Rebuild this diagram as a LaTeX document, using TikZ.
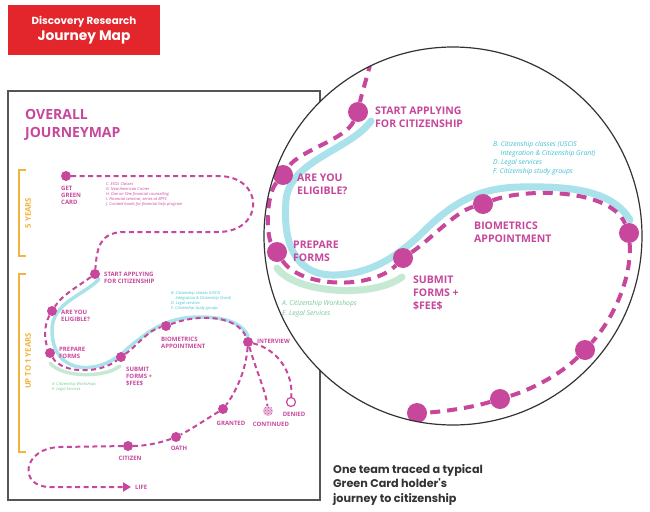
\documentclass[tikz,border=0pt]{standalone}
\usepackage{fontspec}
\setmainfont{Open Sans}
\newfontfamily\roundfont{Poppins}
\usetikzlibrary{positioning, arrows.meta, patterns}

\definecolor{jmag}{HTML}{C6479C}
\definecolor{jcyan}{HTML}{A9E2EA}
\definecolor{jcyantext}{HTML}{3FC0D2}
\definecolor{jgreen}{HTML}{C6E9D3}
\definecolor{jgreentext}{HTML}{74C993}
\definecolor{jorange}{HTML}{F2B43C}
\definecolor{jred}{HTML}{E3262B}
\definecolor{jframe}{HTML}{555555}
\definecolor{jink}{HTML}{333333}

\begin{document}
\begin{tikzpicture}[x=1pt, y=-1pt,
  banner/.style={fill=jred, text=white, minimum width=152pt, minimum height=50pt,
                 align=center, inner sep=0pt},
  dot/.style={circle, fill=jmag, inner sep=0pt, minimum size=10pt},
  bigdot/.style={circle, fill=jmag, inner sep=0pt, minimum size=20pt},
  slab/.style={font=\fontsize{6}{7.3}\selectfont\bfseries, text=jmag, align=left, inner sep=0pt},
  blab/.style={font=\fontsize{10.5}{12.8}\selectfont\bfseries, text=jmag, align=left, inner sep=0pt},
  yrs/.style={font=\fontsize{7.8}{9}\selectfont\bfseries, text=jorange, inner sep=0pt},
  note/.style={font=\fontsize{4}{5}\selectfont\itshape, align=left, inner sep=0pt},
  bignote/.style={font=\fontsize{6.8}{9.2}\selectfont\itshape, align=left, inner sep=0pt},
  trail/.style={draw=jmag, line width=2pt, dash pattern=on 5pt off 3.5pt},
  bigtrail/.style={draw=jmag, line width=4pt, dash pattern=on 10pt off 7pt},
  band/.style={draw=jcyan, line width=3.5pt, line cap=round},
  bigband/.style={draw=jcyan, line width=7pt, line cap=round},
  bracket/.style={draw=jorange, line width=1.5pt},
]
\useasboundingbox (0,0) rectangle (650,511);

% Title banner
\node[banner] (title) at (84,30)
  {{\roundfont\bfseries\fontsize{10.3}{12}\selectfont Discovery Research}\\[3pt]
   {\roundfont\bfseries\fontsize{13.8}{15}\selectfont Journey Map}};

% Overview frame
\draw[jframe, line width=1.2pt] (8,91) rectangle (320,500);
\node[font=\fontsize{14}{18}\selectfont\bfseries, text=jmag, align=left, inner sep=0pt,
      anchor=north west] (head) at (25,109) {OVERALL\\JOURNEYMAP};

% Time brackets
\draw[bracket] (26,170) -- (19,170) -- (19,256) -- (26,256);
\draw[bracket] (26,274) -- (19,274) -- (19,452) -- (26,452);
\node[yrs, rotate=90] (y5) at (28,213) {5 YEARS};
\node[yrs, rotate=90] (y1) at (28,361) {UP TO 1 YEARS};

% Service bands (overview)
\draw[band] (99,279) .. controls (85,295) and (52,302) .. (52,330)
  .. controls (52,376) and (100,377) .. (128,348)
  .. controls (148,332) and (165,317) .. (200,317)
  .. controls (230,317) and (244,326) .. (248,336);
\draw[band, draw=jgreen] (50,363) .. controls (62,378) and (105,378) .. (120,366);

% Stops (overview)
\node[dot] (gc) at (66,176) {};
\node[dot] (st) at (95,274) {};
\node[dot] (el) at (52,311) {};
\node[dot] (pf) at (50,353) {};
\node[dot] (sb) at (121,357) {};
\node[dot] (bio) at (166,326) {};
\node[dot] (iv) at (248,342) {};
\node[dot] (gr) at (223,409) {};
\node[circle, inner sep=0pt, minimum size=10pt, fill=jmag!35,
      postaction={pattern=crosshatch dots, pattern color=jmag}] (co) at (268,411) {};
\node[circle, inner sep=0pt, minimum size=9pt, draw=jmag, line width=1.2pt, fill=white] (dn) at (291,402) {};
\node[dot] (oa) at (176,437) {};
\node[dot] (cz) at (128,446) {};

% Labels (overview)
\node[slab, anchor=north west] (gcl) at (61,185.5) {GET\\GREEN\\CARD};
\node[slab, anchor=north west] (stl) at (104,271.5) {START APPLYING\\FOR CITIZENSHIP};
\node[slab, anchor=north west] (ell) at (61,309.5) {ARE YOU\\ELIGIBLE?};
\node[slab, anchor=north west] (pfl) at (59,346.5) {PREPARE\\FORMS};
\node[slab, anchor=north west] (sbl) at (126,366.5) {SUBMIT\\FORMS +\\\$FEE\$};
\node[slab, anchor=north west] (biol) at (161,336.5) {BIOMETRICS\\APPOINTMENT};
\node[slab, anchor=west] (ivl) at (257,341) {INTERVIEW};
\node[slab] (grl) at (231,423) {GRANTED};
\node[slab] (col) at (271,424) {CONTINUED};
\node[slab] (dnl) at (294,414) {DENIED};
\node[slab] (oal) at (179,448) {OATH};
\node[slab] (czl) at (130,458) {CITIZEN};
\node[slab, anchor=west, inner xsep=4pt] (life) at (131,487) {LIFE};

% Notes (overview)
\node[note, text=jmag, anchor=north west] (gcn) at (106,182.5)
  {C. ESOL Classes\\G. New American Corner\\H. One on One financial counselling\\
   I. Financial seminar, series at BPYC\\J. Curated books for financial help program};
\node[note, text=jcyantext, anchor=north west] (bn) at (171,291)
  {B. Citizenship classes (USCIS\\\hspace*{1.1em}Integration \& Citizenship Grant)\\
   D. Legal services\\F. Citizenship study groups};
\node[note, text=jgreentext, anchor=north west] (an) at (52,382)
  {A. Citizenship Workshops\\E. Legal Services};

% Journey (overview)
\draw[trail] (gc) -- (218,176) .. controls (265,176) and (265,232) .. (218,232)
  -- (125,232) .. controls (100,232) and (97,247) .. (st);
\draw[trail] (st) .. controls (80,285) and (62,295) .. (el);
\draw[trail] (el) .. controls (44,325) and (44,340) .. (pf);
\draw[trail] (pf) .. controls (62,374) and (100,374) .. (sb);
\draw[trail] (sb) .. controls (138,345) and (148,330) .. (bio);
\draw[trail] (bio) .. controls (200,313) and (238,316) .. (iv);
\draw[trail] (iv) .. controls (246,370) and (236,392) .. (gr);
\draw[trail] (iv) .. controls (256,370) and (266,392) .. (co);
\draw[trail] (iv) .. controls (280,350) and (293,375) .. (dn);
\draw[trail] (gr) .. controls (205,420) and (190,430) .. (oa);
\draw[trail] (oa) .. controls (160,443) and (145,446) .. (cz);
\draw[trail, -{Triangle[length=8pt, width=9pt]}] (cz) -- (60,447)
  .. controls (22,448) and (18,487) .. (50,487) -- (life);

% Magnifier
\node[circle, fill=white, minimum size=378pt, inner sep=0pt] (lens) at (453,236) {};
\begin{scope}
\clip (lens.center) circle (189);

% Service bands (detail)
\draw[bigband] (371,121) .. controls (350,150) and (290,160) .. (286,200)
  .. controls (282,250) and (300,276) .. (335,275)
  .. controls (370,274) and (395,258) .. (420,235)
  .. controls (450,205) and (475,188) .. (520,187)
  .. controls (570,186) and (612,190) .. (630,220);
\draw[bigband, draw=jgreen] (277,268) .. controls (295,293) and (372,299) .. (402,277);

% Stops (detail)
\coordinate (ztop) at (375,45);
\node[bigdot] (zst) at (358,112) {};
\node[bigdot] (zel) at (283,175) {};
\node[bigdot] (zpf) at (277,252) {};
\node[bigdot] (zsb) at (403,258) {};
\node[bigdot] (zbio) at (483,204) {};
\node[bigdot] (zi) at (629,233) {};
\node[bigdot] (zg) at (585,350) {};
\node[bigdot] (zo) at (500,399) {};
\node[bigdot] (zc) at (417,413) {};

% Labels (detail)
\node[blab, anchor=north west] (zstl) at (375,107) {START APPLYING\\FOR CITIZENSHIP};
\node[blab, anchor=north west] (zell) at (297,174) {ARE YOU\\ELIGIBLE?};
\node[blab, anchor=north west] (zpfl) at (293,241) {PREPARE\\FORMS};
\node[blab, anchor=north west] (zsbl) at (413,276) {SUBMIT\\FORMS +\\\$FEE\$};
\node[blab, anchor=north west] (zbiol) at (474,222) {BIOMETRICS\\APPOINTMENT};

% Notes (detail)
\node[bignote, text=jcyantext, anchor=north west] (zbn) at (493,141)
  {B. Citizenship classes (USCIS\\\hspace*{1.1em}Integration \& Citizenship Grant)\\
   D. Legal services\\F. Citizenship study groups};
\node[bignote, text=jgreentext, anchor=north west] (zan) at (282,300.5)
  {A. Citizenship Workshops\\E. Legal Services};

% Journey (detail)
\draw[bigtrail] (ztop) .. controls (368,75) and (362,92) .. (zst);
\draw[bigtrail] (zst) .. controls (345,140) and (300,150) .. (zel);
\draw[bigtrail] (zel) .. controls (266,195) and (266,235) .. (zpf);
\draw[bigtrail] (zpf) .. controls (300,288) and (372,290) .. (zsb);
\draw[bigtrail] (zsb) .. controls (430,240) and (455,212) .. (zbio);
\draw[bigtrail] (zbio) .. controls (525,188) and (610,188) .. (zi);
\draw[bigtrail] (zi) .. controls (632,280) and (612,320) .. (zg);
\draw[bigtrail] (zg) .. controls (560,375) and (530,390) .. (zo);
\draw[bigtrail] (zo) .. controls (470,408) and (440,412) .. (zc);
\end{scope}
\draw[jink, line width=1.2pt] (lens.center) circle (189);

% Caption
\node[font=\roundfont\bfseries\fontsize{11.2}{14.5}\selectfont, text=jink, align=left,
      inner sep=0pt, anchor=north west] (cap) at (333,464)
  {One team traced a typical\\Green Card holder's\\journey to citizenship};

\end{tikzpicture}
\end{document}
